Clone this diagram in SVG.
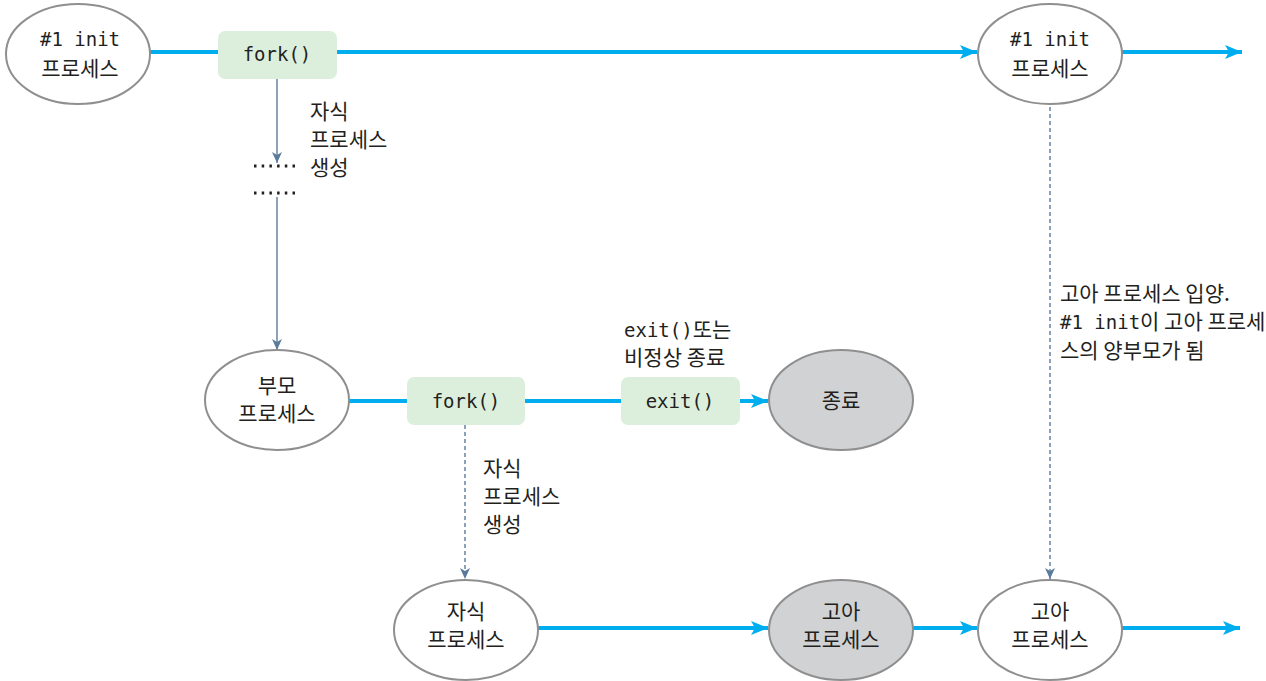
<svg xmlns="http://www.w3.org/2000/svg" width="1266" height="681" viewBox="0 0 1266 681">
<style>
.el{fill:#ffffff;stroke:#8f8f8f;stroke-width:2}
.gr{fill:#d1d2d4;stroke:#8f8f8f;stroke-width:2}
.box{fill:#dcefdc;stroke:none}
.flow{stroke:#00aeef;stroke-width:4;fill:none}
.sub{stroke:#5b7b9c;stroke-width:1.4;fill:none}
.dash{stroke:#5b7b9c;stroke-width:1.4;fill:none;stroke-dasharray:4 3}
.dots{stroke:#231f20;stroke-width:3;stroke-dasharray:2.5 5.2;fill:none}
text{fill:#231f20;font-size:21px}
.ko{font-family:"Noto Sans CJK KR","Noto Sans",sans-serif}
.mono{font-family:"DejaVu Sans Mono","Noto Sans CJK KR",monospace;font-size:19px}
.c{text-anchor:middle}
</style>
<defs>
<marker id="ab" markerUnits="userSpaceOnUse" markerWidth="18" markerHeight="14" refX="17" refY="7" orient="auto">
<path d="M0,0 L17,7 L0,14 L4,7 Z" fill="#00aeef"/>
</marker>
<marker id="as" markerUnits="userSpaceOnUse" markerWidth="12" markerHeight="10" refX="11" refY="5" orient="auto">
<path d="M0,0 L11,5 L0,10 L3,5 Z" fill="#5b7b9c"/>
</marker>
</defs>
<g id="connectors">
<line class="flow" x1="150" y1="52" x2="218" y2="52"/>
<line class="flow" x1="337" y1="52" x2="977" y2="52" marker-end="url(#ab)"/>
<line class="flow" x1="1122" y1="52" x2="1242" y2="52" marker-end="url(#ab)"/>
<line class="sub" x1="277" y1="79" x2="277" y2="163" marker-end="url(#as)"/>
<line class="dots" x1="254" y1="166" x2="300" y2="166"/>
<line class="dots" x1="254" y1="193" x2="300" y2="193"/>
<line class="sub" x1="277" y1="197" x2="277" y2="350" marker-end="url(#as)"/>
<line class="flow" x1="349" y1="401" x2="407" y2="401"/>
<line class="flow" x1="525" y1="401" x2="621" y2="401"/>
<line class="flow" x1="740" y1="401" x2="768" y2="401" marker-end="url(#ab)"/>
<line class="dash" x1="465" y1="425" x2="465" y2="579" marker-end="url(#as)"/>
<line class="dash" x1="1050" y1="107" x2="1050" y2="579" marker-end="url(#as)"/>
<line class="flow" x1="538" y1="628" x2="768" y2="628" marker-end="url(#ab)"/>
<line class="flow" x1="913" y1="628" x2="977" y2="628" marker-end="url(#ab)"/>
<line class="flow" x1="1122" y1="628" x2="1240" y2="628" marker-end="url(#ab)"/>
</g>
<g id="init1">
<ellipse class="el" cx="78" cy="54" rx="72" ry="50"/>
<text class="mono c" x="80" y="46">#1 init</text>
<text class="ko c" x="80" y="76">프로세스</text>
</g>
<g id="fork1">
<rect class="box" x="218" y="31" width="119" height="48" rx="7"/>
<text class="mono c" x="277" y="61">fork()</text>
</g>
<g id="label-child1">
<text class="ko" x="310" y="119">자식</text>
<text class="ko" x="310" y="147">프로세스</text>
<text class="ko" x="310" y="175">생성</text>
</g>
<g id="init2">
<ellipse class="el" cx="1050" cy="54" rx="72" ry="50"/>
<text class="mono c" x="1050" y="46">#1 init</text>
<text class="ko c" x="1050" y="76">프로세스</text>
</g>
<g id="parent">
<ellipse class="el" cx="277" cy="400" rx="72" ry="50"/>
<text class="ko c" x="277" y="393">부모</text>
<text class="ko c" x="277" y="421">프로세스</text>
</g>
<g id="fork2">
<rect class="box" x="407" y="377" width="118" height="48" rx="7"/>
<text class="mono c" x="466" y="408">fork()</text>
</g>
<g id="exit">
<rect class="box" x="621" y="377" width="119" height="48" rx="7"/>
<text class="mono c" x="680" y="408">exit()</text>
</g>
<g id="label-exit">
<text x="624" y="337"><tspan class="mono">exit()</tspan><tspan class="ko">또는</tspan></text>
<text class="ko" x="624" y="365">비정상 종료</text>
</g>
<g id="end">
<ellipse class="gr" cx="841" cy="400" rx="72" ry="50"/>
<text class="ko c" x="841" y="408">종료</text>
</g>
<g id="label-child2">
<text class="ko" x="483" y="476">자식</text>
<text class="ko" x="483" y="504">프로세스</text>
<text class="ko" x="483" y="532">생성</text>
</g>
<g id="child">
<ellipse class="el" cx="466" cy="630" rx="72" ry="50"/>
<text class="ko c" x="466" y="619">자식</text>
<text class="ko c" x="466" y="647">프로세스</text>
</g>
<g id="orphan1">
<ellipse class="gr" cx="841" cy="630" rx="72" ry="50"/>
<text class="ko c" x="841" y="619">고아</text>
<text class="ko c" x="841" y="647">프로세스</text>
</g>
<g id="orphan2">
<ellipse class="el" cx="1050" cy="630" rx="72" ry="50"/>
<text class="ko c" x="1050" y="619">고아</text>
<text class="ko c" x="1050" y="647">프로세스</text>
</g>
<g id="label-adopt">
<text class="ko" x="1060" y="301">고아 프로세스 입양.</text>
<text x="1060" y="329"><tspan class="mono">#1 init</tspan><tspan class="ko">이 고아 프로세</tspan></text>
<text class="ko" x="1060" y="358">스의 양부모가 됨</text>
</g>
</svg>
